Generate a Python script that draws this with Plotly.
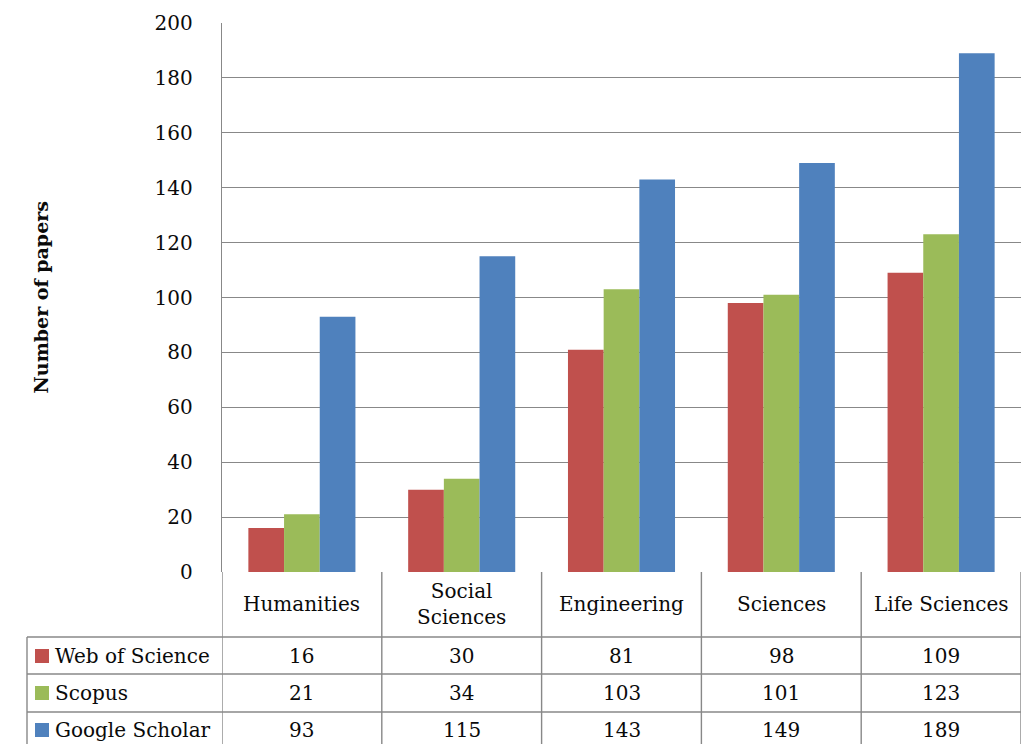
import plotly.graph_objects as go

categories = ["Humanities", "Social<br>Sciences", "Engineering", "Sciences", "Life Sciences"]
series_names = ["Web of Science", "Scopus", "Google Scholar"]
web_of_science = [16, 30, 81, 98, 109]
scopus = [21, 34, 103, 101, 123]
google_scholar = [93, 115, 143, 149, 189]
series_values = [web_of_science, scopus, google_scholar]
colors = ["#C0504D", "#9BBB59", "#4F81BD"]
y_ticks = [0, 20, 40, 60, 80, 100, 120, 140, 160, 180, 200]

OFF = 8  # page body margin
W, H = 1034 - OFF, 744 - OFF
L, T = 222 - OFF, 23 - OFF
R = W - (1021 - OFF)
B = H - (572 - OFF)
PW, PH = W - L - R, H - T - B

def px(x):
    return (x - OFF - L) / PW

def py(y):
    return (H - B - (y - OFF)) / PH

FONT = "DejaVu Serif"
GRID = "#888888"
TXT = "#0a0a0a"

fig = go.Figure()
xs = list(range(len(categories)))
for name, vals, col in zip(series_names, series_values, colors):
    fig.add_trace(go.Bar(x=xs, y=vals, name=name, marker=dict(color=col, line=dict(width=0)),
                         showlegend=False))

shapes = []
annotations = []
line = dict(color=GRID, width=1.4)

n = len(categories)
for i in range(n + 1):
    shapes.append(dict(type="line", xref="x", yref="paper", x0=i - 0.5, x1=i - 0.5,
                       y0=0, y1=py(760), line=line))
shapes.append(dict(type="line", xref="paper", yref="paper", x0=px(27), x1=px(27),
                   y0=py(637), y1=py(760), line=line))
for yy in [637, 674, 712]:
    shapes.append(dict(type="line", xref="paper", yref="paper", x0=px(27), x1=1,
                       y0=py(yy), y1=py(yy), line=line))

for i, c in enumerate(categories):
    annotations.append(dict(x=i, y=py(604), xref="x", yref="paper", text=c, showarrow=False,
                            font=dict(family=FONT, size=20, color=TXT),
                            xanchor="center", yanchor="middle"))

row_centers = [656, 693, 730]
for name, vals, col, yc in zip(series_names, series_values, colors, row_centers):
    shapes.append(dict(type="rect", xref="paper", yref="paper", x0=px(35), x1=px(49),
                       y0=py(yc - 7), y1=py(yc + 7), fillcolor=col, line=dict(width=0)))
    annotations.append(dict(x=px(53), y=py(yc), xref="paper", yref="paper", text=name,
                            showarrow=False, font=dict(family=FONT, size=20, color=TXT),
                            xanchor="left", yanchor="middle"))
    for i, v in enumerate(vals):
        annotations.append(dict(x=i, y=py(yc), xref="x", yref="paper", text=str(v),
                                showarrow=False, font=dict(family=FONT, size=20, color=TXT),
                                xanchor="center", yanchor="middle"))

annotations.append(dict(x=px(40), y=0.5, xref="paper", yref="paper", text="<b>Number of papers</b>",
                        textangle=-90, showarrow=False,
                        font=dict(family=FONT, size=19, color=TXT),
                        xanchor="center", yanchor="middle"))

fig.update_layout(
    width=W, height=H,
    margin=dict(l=L, r=R, t=T, b=B, autoexpand=False),
    paper_bgcolor="white", plot_bgcolor="white",
    barmode="group", bargap=0.33, bargroupgap=0,
    shapes=shapes, annotations=annotations,
    font=dict(family=FONT, size=20, color=TXT),
    xaxis=dict(range=[-0.5, n - 0.5], showticklabels=False, showgrid=False, zeroline=False,
               showline=False, ticks="", automargin=False),
    yaxis=dict(range=[0, 200], tickvals=y_ticks, showgrid=True, gridcolor=GRID, gridwidth=1.4,
               zeroline=False, showline=True, linecolor=GRID, linewidth=1.4, ticks="",
               automargin=False,
               ticklabelstandoff=24, tickfont=dict(family=FONT, size=20, color=TXT)),
)

fig.write_html("out.html")
